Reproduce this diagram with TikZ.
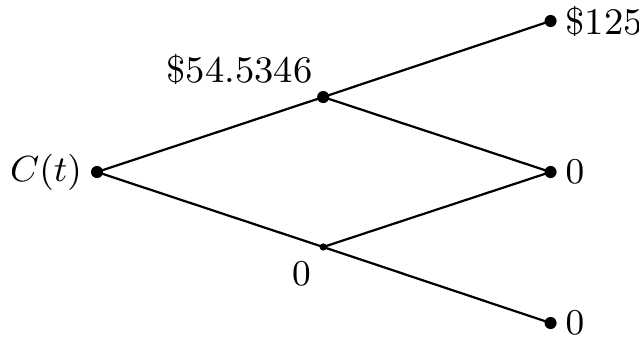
\documentclass[tikz,border=0pt]{standalone}
\usepackage{tikz}
\usetikzlibrary{positioning}

\begin{document}
\begin{tikzpicture}[
    dot/.style={circle, fill=black, inner sep=0pt, minimum size=#1},
    dot/.default=3pt,
    branch/.style={line width=0.55pt},
    lbl/.style={font=\fontsize{9.3}{11}\selectfont},
]
    \useasboundingbox (-0.845,-1.455) rectangle (4.72,1.498);

    \node[dot] (root) at (0,0) {};
    \node[dot] (up) at (1.97,0.653) {};
    \node[dot=1.8pt] (down) at (1.97,-0.653) {};
    \node[dot] (uu) at (3.95,1.315) {};
    \node[dot] (ud) at (3.95,0) {};
    \node[dot] (dd) at (3.95,-1.315) {};

    \draw[branch] (root.center) -- (up.center) -- (uu.center);
    \draw[branch] (up.center) -- (ud.center);
    \draw[branch] (root.center) -- (down.center) -- (ud.center);
    \draw[branch] (down.center) -- (dd.center);

    \node[lbl, left=-1.5pt of root] (rootlabel) {$C(t)$};
    \node[lbl] (uplabel) at ([xshift=-0.73cm, yshift=0.244cm]up) {\$54.5346};
    \node[lbl] (downlabel) at ([xshift=-0.19cm, yshift=-0.235cm]down) {$0$};
    \node[lbl, right=-1.5pt of uu] (uulabel) {\$125};
    \node[lbl, right=-1.5pt of ud] (udlabel) {$0$};
    \node[lbl, right=-1.5pt of dd] (ddlabel) {$0$};
\end{tikzpicture}
\end{document}
